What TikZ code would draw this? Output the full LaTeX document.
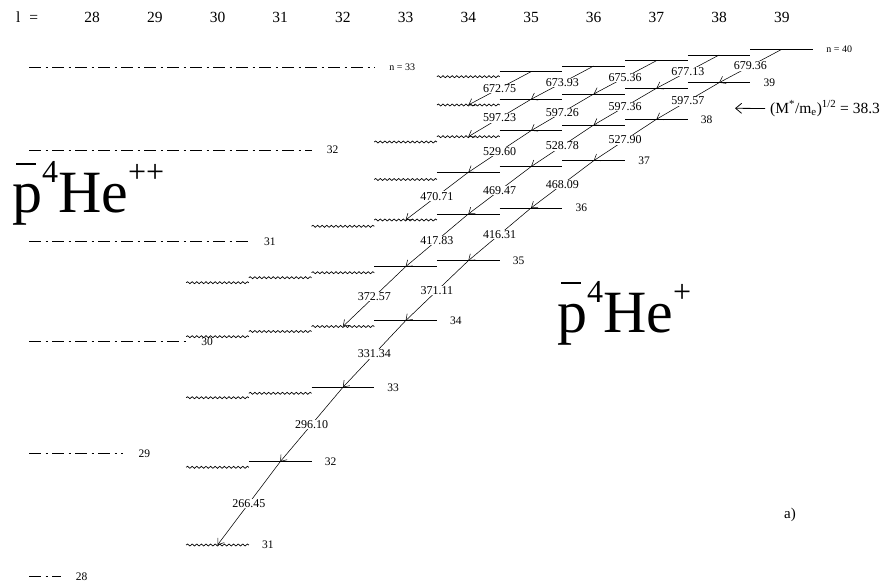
\documentclass[tikz,border=0pt]{standalone}
\usepackage{fontspec}
\setmainfont{Liberation Serif}
\usetikzlibrary{decorations.pathmorphing,arrows.meta}
\newcommand{\antihe}[1]{\fontsize{60}{60}\selectfont\makebox[0pt][l]{\hspace{0.07em}\raisebox{0.8em}{\rule{0.33em}{0.035em}}}p\raisebox{0.5em}{\fontsize{32}{32}\selectfont 4}He\raisebox{0.5em}{\fontsize{32}{32}\selectfont #1}}
\begin{document}
\begin{tikzpicture}[x=1pt,y=-1pt,
  slev/.style={line width=0.8pt},
  wlev/.style={line width=0.7pt,decorate,decoration={snake,segment length=4.6pt,amplitude=1pt}},
  dlev/.style={line width=0.7pt,dash pattern=on 12pt off 4.5pt on 2pt off 4.5pt},
  trans/.style={line width=0.55pt,-{Straight Barb[length=5.5pt,width=8pt]}},
  tlab/.style={fill=white,inner sep=0.6pt,font=\fontsize{12}{13}\selectfont},
  lvlab/.style={anchor=west,inner sep=0pt,font=\fontsize{11.5}{12}\selectfont},
  smlab/.style={anchor=west,inner sep=0pt,font=\fontsize{10}{11}\selectfont},
  toplab/.style={inner sep=0pt,font=\fontsize{15.5}{16}\selectfont}]
\useasboundingbox (0,0) rectangle (885,585);

% top l labels
\node[toplab,anchor=west] (lhead) at (16,17) {l\hspace{9pt}=};
\foreach \l in {28,...,39}{
  \pgfmathsetmacro\cx{217.5+62.7*(\l-30)}
  \node[toplab] (top\l) at (\cx,17) {\l};
}

% pbar He++ levels (dash-dot)
\foreach \n/\y in {33/67.5,32/150,31/241.7,30/341.7,29/453.3,28/576.7}{
  \pgfmathsetmacro\xe{217.5+62.7*(\n-30)-31.35}
  \coordinate (D\n a) at (29,\y);
  \coordinate (D\n b) at (\xe,\y);
  \draw[dlev] (D\n a) -- (D\n b);
}
\node[smlab] (dn33) at ([xshift=15pt]D33b) {n = 33};
\foreach \n in {32,31,30,29,28}{
  \node[lvlab] (dn\n) at ([xshift=15pt]D\n b) {\n};
}

% pbar He+ levels
\foreach \n/\l/\y/\t in {
40/34/76.7/wlev, 40/35/71.7/slev, 40/36/66/slev, 40/37/60.7/slev, 40/38/55/slev, 40/39/49.3/slev,
39/34/105/wlev, 39/35/99.3/slev, 39/36/94/slev, 39/37/88.3/slev, 39/38/82.7/slev,
38/33/142/wlev, 38/34/136.7/wlev, 38/35/130.7/slev, 38/36/125/slev, 38/37/119.3/slev,
37/33/179.5/wlev, 37/34/172.3/slev, 37/35/166.7/slev, 37/36/160.7/slev,
36/32/226.3/wlev, 36/33/220/wlev, 36/34/214/slev, 36/35/208/slev,
35/30/282.7/wlev, 35/31/277.7/wlev, 35/32/272.7/wlev, 35/33/266.7/slev, 35/34/260.7/slev,
34/30/336.7/wlev, 34/31/331.5/wlev, 34/32/326.5/wlev, 34/33/320.7/slev,
33/30/397.7/wlev, 33/31/393.3/wlev, 33/32/387.3/slev,
32/30/467.3/wlev, 32/31/461.7/slev,
31/30/545/wlev}{
  \pgfmathsetmacro\cx{217.5+62.7*(\l-30)}
  \coordinate (L\n-\l) at (\cx,\y);
  \draw[\t] ([xshift=-31.35pt]L\n-\l) -- ([xshift=31.35pt]L\n-\l);
}

% row labels
\node[smlab] (rn40) at ([xshift=44.35pt]L40-39) {n = 40};
\foreach \n/\l in {39/38,38/37,37/36,36/35,35/34,34/33,33/32,32/31,31/30}{
  \node[lvlab] (rn\n) at ([xshift=44.35pt]L\n-\l) {\n};
}

% transitions
\foreach \a/\b/\c/\d/\w in {
40/35/39/34/672.75, 40/36/39/35/673.93, 40/37/39/36/675.36, 40/38/39/37/677.13, 40/39/39/38/679.36,
39/35/38/34/597.23, 39/36/38/35/597.26, 39/37/38/36/597.36, 39/38/38/37/597.57,
38/35/37/34/529.60, 38/36/37/35/528.78, 38/37/37/36/527.90,
37/34/36/33/470.71, 37/35/36/34/469.47, 37/36/36/35/468.09,
36/34/35/33/417.83, 36/35/35/34/416.31,
35/33/34/32/372.57, 35/34/34/33/371.11,
34/33/33/32/331.34, 33/32/32/31/296.10, 32/31/31/30/266.45}{
  \draw[trans] (L\a-\b) -- node[tlab] {\w} (L\c-\d);
}

% big labels
\node[anchor=base west,inner sep=0pt] (hepp) at (12,213) {\antihe{++}};
\node[anchor=base west,inner sep=0pt] (hep) at (557,332) {\antihe{+}};

% mass annotation
\node[anchor=west,inner sep=0pt,font=\fontsize{15.5}{16}\selectfont] (mass) at (770,108.5)
  {(M\textsuperscript{*}/m\textsubscript{e})\textsuperscript{1/2} = 38.3};
\coordinate (masstip) at (735,108.3);
\draw[line width=0.8pt,-{Straight Barb[length=6pt,width=10pt]}] ([xshift=-5pt]mass.west) -- (masstip);

\node[inner sep=0pt,font=\fontsize{15}{16}\selectfont] (alab) at (790,515) {a)};
\end{tikzpicture}
\end{document}
